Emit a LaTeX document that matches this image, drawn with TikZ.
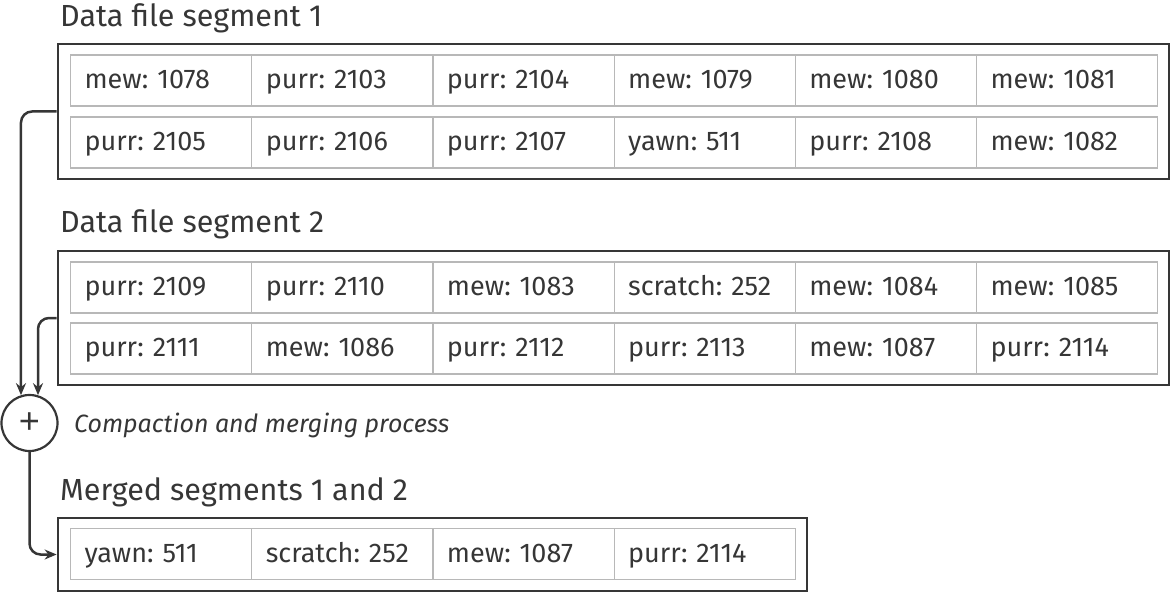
\documentclass[tikz,border=0pt]{standalone}
\usepackage{fontspec}
\setmainfont{Fira Sans}
\newfontfamily\plusfont{Liberation Sans}
\usetikzlibrary{arrows.meta}
\definecolor{ink}{HTML}{363636}
\definecolor{cellline}{HTML}{B8B8B8}
\tikzset{
  title/.style={anchor=base west, inner sep=0pt, text=ink, font=\fontsize{30.5}{32}\selectfont},
  note/.style={anchor=base west, inner sep=0pt, text=ink, font=\fontsize{25}{27}\selectfont\itshape},
  cell/.style={draw=cellline, line width=1.1pt, anchor=west, minimum height=51pt,
               inner xsep=14pt, inner ysep=0pt, text width=153.2pt, align=left,
               text height=17pt, text depth=1pt, text=ink,
               font=\fontsize{27}{29}\selectfont\frenchspacing},
  segbox/.style={draw=ink, line width=2.8pt, minimum width=1111pt, inner sep=0pt},
  flow/.style={draw=ink, line width=2.5pt, rounded corners=11pt,
               -{Stealth[length=12pt,width=10pt]}},
  merger/.style={circle, draw=ink, line width=2.2pt, minimum size=56pt, inner sep=0pt,
                 text=ink, font=\plusfont\fontsize{36}{38}\selectfont},
}
\begin{document}
\begin{tikzpicture}[x=1pt,y=-1pt]
  \useasboundingbox (0,0) rectangle (1175,604);

  % segment titles
  \node[title] (t1) at (60,27) {Data file segment 1};
  \node[title] (t2) at (60,233) {Data file segment 2};
  \node[title] (t3) at (60,500) {Merged segments 1 and 2};

  % outer frames
  \node[segbox, minimum height=135pt] (seg1) at (613.5,111.5) {};
  \node[segbox, minimum height=134pt] (seg2) at (613.5,318) {};
  \node[segbox, minimum width=749pt, minimum height=73pt] (merged) at (432.5,554.5) {};

  % segment 1 records
  \foreach \t [count=\i] in {mew: 1078, purr: 2103, purr: 2104, mew: 1079, mew: 1080, mew: 1081}
    \node[cell] (s1a\i) at ({70+(\i-1)*181.2},80.5) {\t};
  \foreach \t [count=\i] in {purr: 2105, purr: 2106, purr: 2107, yawn: 511, purr: 2108, mew: 1082}
    \node[cell] (s1b\i) at ({70+(\i-1)*181.2},142.5) {\t};

  % segment 2 records
  \foreach \t [count=\i] in {purr: 2109, purr: 2110, mew: 1083, scratch: 252, mew: 1084, mew: 1085}
    \node[cell] (s2a\i) at ({70+(\i-1)*181.2},287.5) {\t};
  \foreach \t [count=\i] in {purr: 2111, mew: 1086, purr: 2112, purr: 2113, mew: 1087, purr: 2114}
    \node[cell] (s2b\i) at ({70+(\i-1)*181.2},348.5) {\t};

  % merged records
  \foreach \t [count=\i] in {yawn: 511, scratch: 252, mew: 1087, purr: 2114}
    \node[cell] (m\i) at ({70+(\i-1)*181.2},554) {\t};

  % merge step
  \node[merger] (plus) at (29.5,423) {+};
  \node[note] (proc) at (74,432) {Compaction and merging process};

  \draw[flow] (seg1.west) -| (plus.107);
  \draw[flow] (seg2.west) -| (plus.73);
  \draw[flow] (plus.south) |- (merged.west);
\end{tikzpicture}
\end{document}
